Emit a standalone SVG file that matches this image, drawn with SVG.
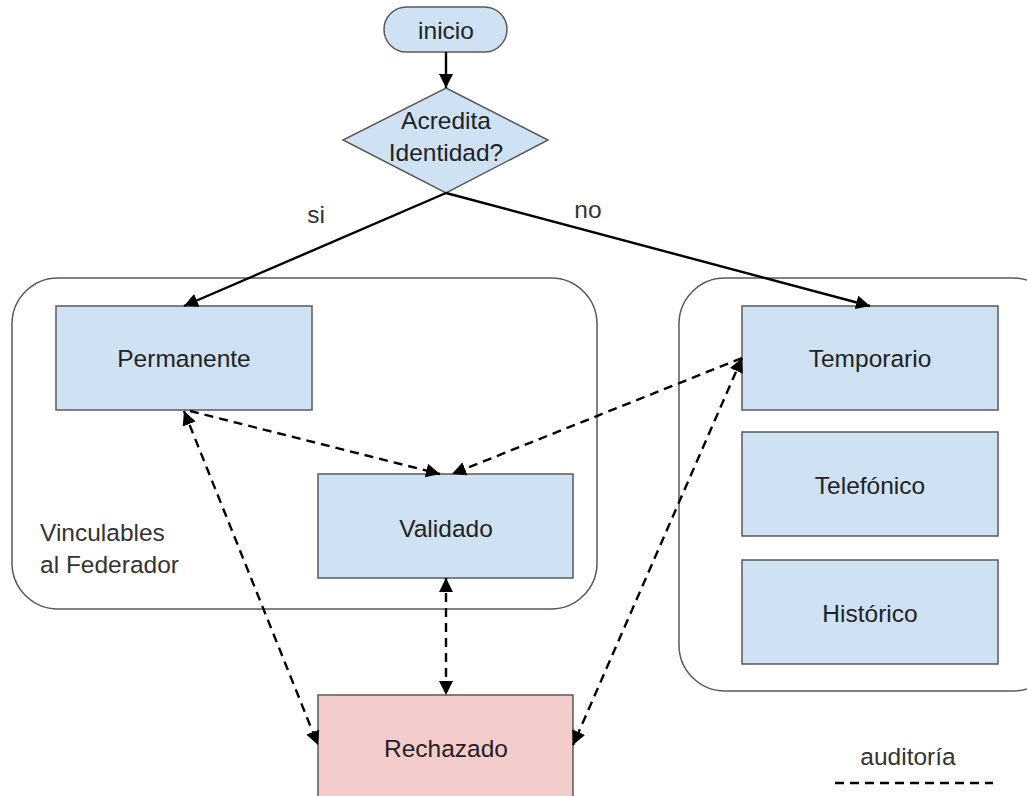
<svg xmlns="http://www.w3.org/2000/svg" width="1027" height="796" viewBox="0 0 1027 796">
<style>
text{font-family:"Liberation Sans",Arial,sans-serif;font-size:24.5px;fill:#222;text-anchor:middle}
.box{fill:#cfe2f3;stroke:#595959;stroke-width:1.5}
.rej{fill:#f4cccc;stroke:#595959;stroke-width:1.5}
.grp{fill:#fff;stroke:#595959;stroke-width:1.5}
.sol{stroke:#000;stroke-width:2.4;fill:none}
.dash{stroke:#000;stroke-width:2.4;fill:none;stroke-dasharray:9 6}
</style>
<defs>
<marker id="ah" viewBox="0 0 10 10" refX="10" refY="5" markerWidth="14" markerHeight="14" markerUnits="userSpaceOnUse" orient="auto-start-reverse">
<path d="M0,0 L10,5 L0,10 z" fill="#000"/>
</marker>
</defs>
<rect width="1027" height="796" fill="#fff"/>
<g id="grupo-vinculables">
<rect class="grp" x="12" y="278" width="585" height="331" rx="46"/>
<text x="40" y="541" style="text-anchor:start;fill:#333">Vinculables</text>
<text x="40" y="573" style="text-anchor:start;fill:#333">al Federador</text>
</g>
<g id="grupo-no-vinculables">
<rect class="grp" x="679" y="278" width="380" height="413" rx="46"/>
</g>
<g id="inicio">
<rect class="box" x="384" y="7" width="123" height="45" rx="22.5"/>
<text x="446" y="39">inicio</text>
</g>
<g id="acredita">
<polygon class="box" points="446,88 548,140 446,193 343,140"/>
<text x="446" y="129">Acredita</text>
<text x="446" y="161">Identidad?</text>
</g>
<g id="permanente">
<rect class="box" x="56" y="306" width="256" height="104"/>
<text x="184" y="367">Permanente</text>
</g>
<g id="validado">
<rect class="box" x="318" y="474" width="255" height="104"/>
<text x="446" y="537">Validado</text>
</g>
<g id="temporario">
<rect class="box" x="742" y="306" width="256" height="104"/>
<text x="870" y="367">Temporario</text>
</g>
<g id="telefonico">
<rect class="box" x="742" y="432" width="256" height="104"/>
<text x="870" y="494">Telefónico</text>
</g>
<g id="historico">
<rect class="box" x="742" y="560" width="256" height="104"/>
<text x="870" y="622">Histórico</text>
</g>
<g id="rechazado">
<rect class="rej" x="318" y="695" width="255" height="110"/>
<text x="446" y="757">Rechazado</text>
</g>
<g id="connectors">
<line class="sol" x1="446" y1="52" x2="446" y2="88" marker-end="url(#ah)"/>
<line class="sol" x1="446" y1="193" x2="184" y2="306" marker-end="url(#ah)"/>
<line class="sol" x1="446" y1="193" x2="870" y2="306" marker-end="url(#ah)"/>
<text x="316" y="223" style="fill:#333">si</text>
<text x="588" y="218" style="fill:#333">no</text>
<line class="dash" x1="190" y1="411" x2="440" y2="474" marker-end="url(#ah)"/>
<line class="dash" x1="742" y1="358" x2="452" y2="474" marker-end="url(#ah)"/>
<line class="dash" x1="184" y1="411" x2="318" y2="745" marker-start="url(#ah)" marker-end="url(#ah)"/>
<line class="dash" x1="446" y1="578" x2="446" y2="695" marker-start="url(#ah)" marker-end="url(#ah)"/>
<line class="dash" x1="742" y1="358" x2="573" y2="745" marker-start="url(#ah)" marker-end="url(#ah)"/>
</g>
<g id="leyenda">
<text x="908" y="765" style="fill:#333">auditoría</text>
<line class="dash" x1="835" y1="783" x2="993" y2="783"/>
</g>
</svg>
